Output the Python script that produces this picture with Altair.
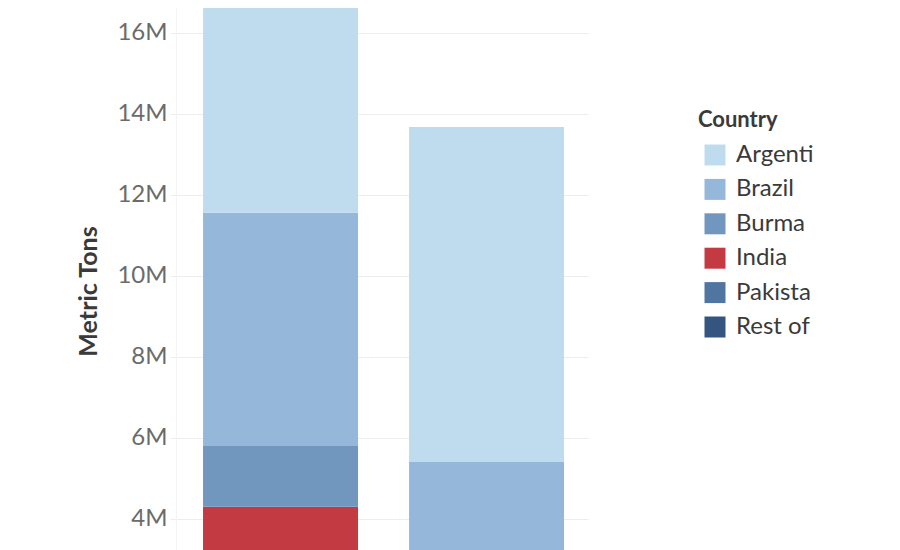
import altair as alt
import pandas as pd

# Data (metric tons)
bars = ["A", "A", "A", "A", "A", "A", "B", "B"]
countries = ["Rest of", "Pakista", "India", "Burma", "Brazil", "Argenti", "Brazil", "Argenti"]
tons = [1.2e6, 1.4e6, 1.7e6, 1.5e6, 5.76e6, 7.0e6, 5.41e6, 8.27e6]

legend_domain = ["Argenti", "Brazil", "Burma", "India", "Pakista", "Rest of"]
legend_colors = ["#bfdcee", "#95b8da", "#7197bf", "#c43a43", "#5175a1", "#33557f"]
stack_rank = {"Rest of": 0, "Pakista": 1, "India": 2, "Burma": 3, "Brazil": 4, "Argenti": 5}

df = pd.DataFrame({"Bar": bars, "Country": countries, "Tons": tons})
df["rank"] = df["Country"].map(stack_rank)

FONT = "Lato"
GRID = "#ededed"

chart = alt.Chart(df).mark_bar(clip=True).encode(
    x=alt.X("Bar:N", axis=None,
            scale=alt.Scale(paddingInner=0.2476, paddingOuter=0.1238, align=0.53)),
    y=alt.Y("Tons:Q", stack="zero",
            scale=alt.Scale(domain=[2.79e6, 16.617e6], nice=False, zero=False),
            axis=alt.Axis(values=[4e6, 6e6, 8e6, 10e6, 12e6, 14e6, 16e6],
                          labelExpr="datum.value / 1000000 + 'M'",
                          grid=True, gridColor=GRID, gridWidth=1,
                          tickSize=6, tickColor=GRID, tickWidth=1,
                          domainColor="#f4f4f4", domainWidth=1,
                          labelPadding=3, labelFontSize=24, labelFont=FONT,
                          labelColor="#6b6b6b",
                          title="Metric Tons", titleFont=FONT, titleFontSize=25,
                          titleFontWeight="bold", titleColor="#3a3a3a",
                          titleX=-80, titleY=283, titleAlign="center",
                          titleBaseline="alphabetic", titleAngle=270)),
    color=alt.Color("Country:N",
                    scale=alt.Scale(domain=legend_domain, range=legend_colors),
                    legend=alt.Legend(orient="none", legendX=522, legendY=102,
                                      title="Country", titleFont=FONT, titleFontSize=22,
                                      titleFontWeight="bold", titleColor="#3a3a3a",
                                      titlePadding=11,
                                      labelFont=FONT, labelFontSize=24, labelColor="#3a3a3a",
                                      symbolType="square", symbolSize=441,
                                      symbolStrokeWidth=0, symbolOpacity=1,
                                      symbolOffset=5, labelOffset=9, rowPadding=10.4)),
    order=alt.Order("rank:Q", sort="ascending"),
).properties(
    width=412, height=560,
    autosize=alt.AutoSizeParams(type="none"),
    padding={"left": 168, "top": 0, "right": 300, "bottom": 0},
).configure_view(strokeWidth=0)

chart.save("out.html", embed_options={"renderer": "svg", "actions": False})
